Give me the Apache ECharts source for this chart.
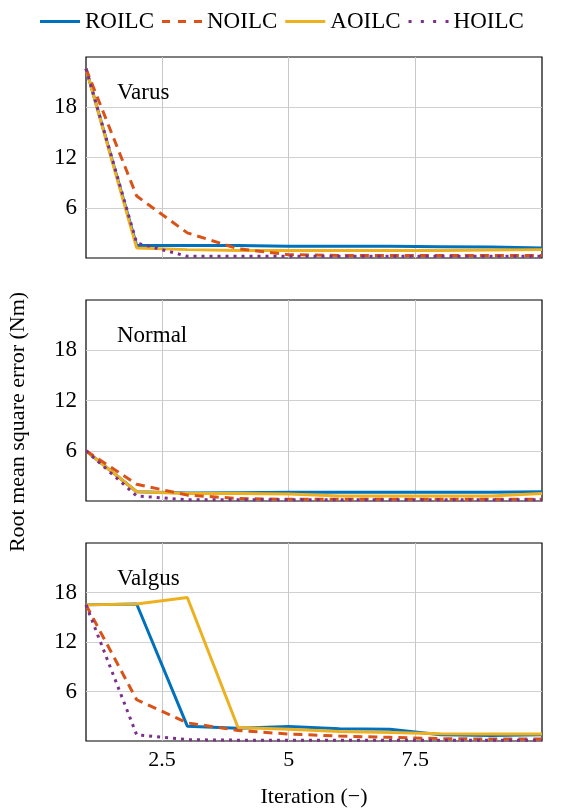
<!DOCTYPE html>
<html>
<head>
<meta charset="utf-8">
<script src="https://cdn.jsdelivr.net/npm/echarts@6/dist/echarts.min.js"></script>
<style>html,body{margin:0;padding:0;background:#fff}#c{width:587px;height:809px}</style>
</head>
<body>
<div id="c"></div>
<script>
var iterations = [1, 2, 3, 4, 5, 6, 7, 8, 9, 10];
var panelNames = ['Varus', 'Normal', 'Valgus'];
var seriesNames = ['ROILC', 'NOILC', 'AOILC', 'HOILC'];
var xTicks = [2.5, 5, 7.5];
var yTicks = [6, 12, 18];

var varusROILC = [22.6, 1.5, 1.5, 1.5, 1.4, 1.4, 1.4, 1.35, 1.3, 1.2];
var varusNOILC = [22.6, 7.4, 3.0, 1.1, 0.4, 0.3, 0.3, 0.3, 0.3, 0.3];
var varusAOILC = [22.6, 1.2, 1.0, 0.9, 0.9, 0.9, 0.9, 0.9, 0.95, 1.0];
var varusHOILC = [22.6, 1.8, 0.2, 0.2, 0.2, 0.2, 0.2, 0.2, 0.2, 0.2];

var normalROILC = [6.0, 1.1, 0.95, 1.0, 1.05, 1.05, 1.05, 1.05, 1.05, 1.1];
var normalNOILC = [6.0, 2.0, 0.7, 0.3, 0.2, 0.2, 0.2, 0.2, 0.2, 0.2];
var normalAOILC = [6.0, 1.1, 0.9, 0.9, 0.85, 0.6, 0.6, 0.6, 0.6, 0.9];
var normalHOILC = [6.0, 0.6, 0.15, 0.15, 0.15, 0.15, 0.15, 0.15, 0.15, 0.15];

var valgusROILC = [16.5, 16.6, 1.8, 1.55, 1.75, 1.48, 1.43, 0.76, 0.68, 0.76];
var valgusNOILC = [16.5, 5.0, 2.2, 1.28, 0.84, 0.6, 0.44, 0.28, 0.24, 0.24];
var valgusAOILC = [16.5, 16.6, 17.4, 1.63, 1.43, 1.16, 1.04, 0.88, 0.84, 0.84];
var valgusHOILC = [16.5, 0.75, 0.16, 0.1, 0.1, 0.1, 0.1, 0.1, 0.1, 0.1];

var panelData = [
  [varusROILC, varusNOILC, varusAOILC, varusHOILC],
  [normalROILC, normalNOILC, normalAOILC, normalHOILC],
  [valgusROILC, valgusNOILC, valgusAOILC, valgusHOILC]
];

var colors = ['#0072BD', '#D95319', '#EDB120', '#7E2F8E'];
var lineTypes = ['solid', [9, 6], 'solid', [3, 5]];
var legendIcons = [
  'path://M0,0 L40,0 L40,3 L0,3 Z',
  'path://M0,0 L8,0 L8,3 L0,3 Z M16,0 L24,0 L24,3 L16,3 Z M32,0 L40,0 L40,3 L32,3 Z',
  'path://M0,0 L40,0 L40,3 L0,3 Z',
  'path://M0,0 L3,0 L3,3 L0,3 Z M12.3,0 L15.3,0 L15.3,3 L12.3,3 Z M24.6,0 L27.6,0 L27.6,3 L24.6,3 Z M37,0 L40,0 L40,3 L37,3 Z'
];
var FONT = '"Liberation Serif", "DejaVu Serif", serif';
var tops = [57, 300, 543];
var H = 201;

var grids = [], xAxes = [], yAxes = [], series = [], titles = [];
for (var p = 0; p < 3; p++) {
  grids.push({left: 86, right: 45, top: tops[p], height: H, show: true, borderColor: '#000', borderWidth: 1.2, backgroundColor: 'transparent'});
  xAxes.push({
    type: 'value', gridIndex: p, min: 1, max: 10,
    axisLine: {show: false},
    axisTick: {show: false, customValues: xTicks},
    axisLabel: {show: p === 2, customValues: xTicks, fontFamily: FONT, fontSize: 22, color: '#000', margin: 8},
    splitLine: {show: true, lineStyle: {color: '#c8c8c8', width: 1}},
    name: p === 2 ? 'Iteration (\u2212)' : '',
    nameLocation: 'middle', nameGap: 45,
    nameTextStyle: {fontFamily: FONT, fontSize: 22, color: '#000'}
  });
  yAxes.push({
    type: 'value', gridIndex: p, min: 0, max: 24,
    axisLine: {show: false},
    axisTick: {show: false, customValues: yTicks},
    axisLabel: {customValues: yTicks, fontFamily: FONT, fontSize: 23, color: '#000', margin: 9},
    splitLine: {show: true, lineStyle: {color: '#d0d0d0', width: 1}}
  });
  titles.push({text: panelNames[p], left: 112, top: tops[p] + 19, textStyle: {fontFamily: FONT, fontSize: 23, fontWeight: 'normal', color: '#000'}});
  for (var s = 0; s < 4; s++) {
    var arr = panelData[p][s];
    var d = [];
    for (var i = 0; i < iterations.length; i++) d.push([iterations[i], arr[i]]);
    series.push({
      name: seriesNames[s], type: 'line', xAxisIndex: p, yAxisIndex: p,
      data: d, symbol: 'none', smooth: false, animation: false,
      color: colors[s],
      lineStyle: {color: colors[s], width: 3, type: lineTypes[s]},
      z: s === 3 ? 5 : (s === 1 ? 4 : 3)
    });
  }
}

var legendData = [];
for (var k = 0; k < seriesNames.length; k++) {
  legendData.push({name: seriesNames[k], icon: legendIcons[k], itemStyle: {color: colors[k], borderWidth: 0}});
}

var chart = echarts.init(document.getElementById('c'));
chart.setOption({
  animation: false,
  title: titles,
  grid: grids,
  xAxis: xAxes,
  yAxis: yAxes,
  legend: {
    data: legendData, top: 5, left: 35,
    itemWidth: 40, itemHeight: 3, itemGap: 8,
    textStyle: {fontFamily: FONT, fontSize: 23, color: '#000'}
  },
  graphic: [{
    type: 'text', x: 18, y: 422, rotation: Math.PI / 2,
    style: {text: 'Root mean square error (Nm)', fontFamily: FONT, fontSize: 22, fill: '#000', textAlign: 'center', textVerticalAlign: 'middle'}
  }],
  series: series
});
</script>
</body>
</html>
